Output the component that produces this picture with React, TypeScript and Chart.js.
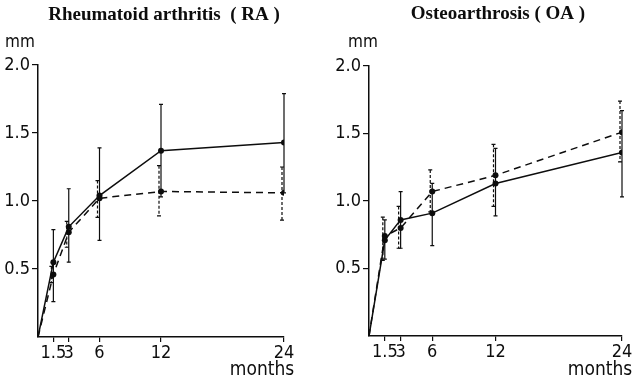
import React, { useEffect, useRef } from "react";
import { Chart, registerables } from "chart.js";

Chart.register(...registerables);

// ---- data ----
const months = [0, 1.5, 3, 6, 12, 24];
const xTicks = [1.5, 3, 6, 12, 24];
const yTicks = [0.5, 1.0, 1.5, 2.0];

// Rheumatoid arthritis (RA)
const raSolid = [0, 0.55, 0.81, 1.04, 1.37, 1.43];
const raSolidLow = [null, 0.26, 0.55, 0.71, 1.03, 1.06];
const raSolidHigh = [null, 0.79, 1.09, 1.39, 1.71, 1.79];
const raDashed = [0, 0.46, 0.77, 1.02, 1.07, 1.06];
const raDashedLow = [null, 0.4, 0.66, 0.88, 0.89, 0.86];
const raDashedHigh = [null, 0.52, 0.85, 1.15, 1.26, 1.25];

// Osteoarthrosis (OA)
const oaSolid = [0, 0.71, 0.86, 0.91, 1.13, 1.36];
const oaSolidLow = [null, 0.57, 0.65, 0.67, 0.89, 1.03];
const oaSolidHigh = [null, 0.86, 1.07, 1.13, 1.39, 1.67];
const oaDashed = [0, 0.74, 0.8, 1.07, 1.19, 1.51];
const oaDashedLow = [null, 0.56, 0.65, 0.92, 0.96, 1.29];
const oaDashedHigh = [null, 0.88, 0.96, 1.23, 1.42, 1.74];

const SANS = "'Liberation Sans Narrow', 'DejaVu Sans Condensed', 'Liberation Sans', Arial, sans-serif";
const SERIF = "'Liberation Serif', 'DejaVu Serif', serif";
const INK = "#0d0d0d";

const errorBarPlugin = {
  id: "errorBars",
  afterDatasetsDraw(chart: any) {
    const ctx = chart.ctx;
    const xs = chart.scales.x;
    const ys = chart.scales.y;
    chart.data.datasets.forEach((ds: any) => {
      if (!ds.errLow) return;
      ctx.save();
      ctx.strokeStyle = INK;
      ctx.lineWidth = 1.2;
      ctx.setLineDash(ds.errDash || []);
      ds.data.forEach((p: any, i: number) => {
        const lo = ds.errLow[i];
        const hi = ds.errHigh[i];
        if (lo == null || hi == null) return;
        const px = xs.getPixelForValue(p.x) + (ds.errShift || 0);
        const pl = ys.getPixelForValue(lo);
        const ph = ys.getPixelForValue(hi);
        ctx.beginPath();
        ctx.moveTo(px, ph);
        ctx.lineTo(px, pl);
        ctx.stroke();
        ctx.setLineDash([]);
        ctx.beginPath();
        ctx.moveTo(px - 2, ph);
        ctx.lineTo(px + 2, ph);
        ctx.moveTo(px - 2, pl);
        ctx.lineTo(px + 2, pl);
        ctx.stroke();
        ctx.setLineDash(ds.errDash || []);
      });
      ctx.restore();
    });
  },
};

const labelsPlugin = {
  id: "panelLabels",
  afterDraw(chart: any, _args: any, opts: any) {
    const ctx = chart.ctx;
    ctx.save();
    ctx.fillStyle = INK;
    ctx.textBaseline = "middle";
    ctx.font = opts.titleFont;
    ctx.textAlign = "center";
    ctx.fillText(opts.title, opts.titleX, opts.titleY);
    ctx.font = `17px ${SANS}`;
    ctx.textAlign = "left";
    ctx.fillText("mm", opts.mmX, opts.mmY);
    ctx.font = `19px ${SANS}`;
    ctx.textAlign = "center";
    ctx.fillText("months", opts.monthsX, opts.monthsY);
    ctx.restore();
  },
};

type PanelProps = {
  title: string;
  titleFont: string;
  solid: number[];
  solidLow: (number | null)[];
  solidHigh: (number | null)[];
  dashed: number[];
  dashedLow: (number | null)[];
  dashedHigh: (number | null)[];
  g: {
    yAxisW: number;
    padTop: number;
    padRight: number;
    xAxisH: number;
    titleX: number;
    titleY: number;
    mmX: number;
    mmY: number;
    monthsX: number;
    monthsY: number;
  };
};

function Panel(props: PanelProps) {
  const ref = useRef<HTMLCanvasElement | null>(null);
  useEffect(() => {
    if (!ref.current) return;
    const { g } = props;
    const pts = (arr: number[]) => months.map((m, i) => ({ x: m, y: arr[i] }));
    const radii = months.map((m) => (m === 0 ? 0 : 3));
    const chart = new Chart(ref.current, {
      type: "line",
      data: {
        datasets: [
          {
            data: pts(props.solid),
            borderColor: INK,
            backgroundColor: INK,
            borderWidth: 1.5,
            pointRadius: radii,
            pointBackgroundColor: INK,
            pointBorderWidth: 0,
            tension: 0,
            errLow: props.solidLow,
            errHigh: props.solidHigh,
            errDash: [],
          } as any,
          {
            data: pts(props.dashed),
            borderColor: INK,
            backgroundColor: INK,
            borderWidth: 1.5,
            borderDash: [7, 5],
            pointRadius: radii,
            pointBackgroundColor: INK,
            pointBorderWidth: 0,
            tension: 0,
            errLow: props.dashedLow,
            errHigh: props.dashedHigh,
            errDash: [3, 2],
            errShift: -2,
          } as any,
        ],
      },
      options: {
        animation: false,
        responsive: false,
        events: [],
        layout: { padding: { top: g.padTop, right: g.padRight, bottom: 0, left: 0 } },
        plugins: {
          legend: { display: false },
          tooltip: { enabled: false },
          title: { display: false },
          panelLabels: {
            title: props.title,
            titleFont: props.titleFont,
            titleX: g.titleX,
            titleY: g.titleY,
            mmX: g.mmX,
            mmY: g.mmY,
            monthsX: g.monthsX,
            monthsY: g.monthsY,
          },
        } as any,
        scales: {
          x: {
            type: "linear",
            min: 0,
            max: 24,
            afterBuildTicks: (s: any) => {
              s.ticks = xTicks.map((v) => ({ value: v }));
            },
            afterFit: (s: any) => {
              s.height = g.xAxisH;
              s.paddingLeft = 0;
              s.paddingRight = 0;
            },
            grid: {
              display: true,
              drawOnChartArea: false,
              drawTicks: true,
              tickLength: 5,
              color: INK,
              lineWidth: 1.2,
            },
            border: { display: true, color: INK, width: 1.5 },
            ticks: {
              color: INK,
              font: { family: SANS, size: 18 },
              padding: 1,
              maxRotation: 0,
              autoSkip: false,
              callback: (v: any) => String(v),
            },
          },
          y: {
            type: "linear",
            min: 0,
            max: 2,
            afterBuildTicks: (s: any) => {
              s.ticks = yTicks.map((v) => ({ value: v }));
            },
            afterFit: (s: any) => {
              s.width = g.yAxisW;
              s.paddingTop = 0;
              s.paddingBottom = 0;
            },
            grid: {
              display: true,
              drawOnChartArea: false,
              drawTicks: true,
              tickLength: 6,
              color: INK,
              lineWidth: 1.2,
            },
            border: { display: true, color: INK, width: 1.5 },
            ticks: {
              color: INK,
              font: { family: SANS, size: 18 },
              padding: 2,
              autoSkip: false,
              callback: (v: any) => Number(v).toFixed(1),
            },
          },
        },
      },
      plugins: [errorBarPlugin, labelsPlugin],
    });
    return () => chart.destroy();
  }, []);
  return <canvas ref={ref} width={316} height={384} style={{ display: "block" }} />;
}

export default function App() {
  return (
    <div
      style={{
        position: "fixed",
        left: 0,
        top: 0,
        width: 632,
        height: 384,
        display: "flex",
        background: "#fff",
      }}
    >
      <Panel
        title="Rheumatoid arthritis  ( RA )"
        titleFont={`bold 19px ${SERIF}`}
        solid={raSolid}
        solidLow={raSolidLow}
        solidHigh={raSolidHigh}
        dashed={raDashed}
        dashedLow={raDashedLow}
        dashedHigh={raDashedHigh}
        g={{
          yAxisW: 38,
          padTop: 65,
          padRight: 32,
          xAxisH: 47,
          titleX: 164,
          titleY: 15,
          mmX: 5,
          mmY: 43,
          monthsX: 262,
          monthsY: 370,
        }}
      />
      <Panel
        title="Osteoarthrosis ( OA )"
        titleFont={`bold 19px ${SERIF}`}
        solid={oaSolid}
        solidLow={oaSolidLow}
        solidHigh={oaSolidHigh}
        dashed={oaDashed}
        dashedLow={oaDashedLow}
        dashedHigh={oaDashedHigh}
        g={{
          yAxisW: 53,
          padTop: 66,
          padRight: 10,
          xAxisH: 48,
          titleX: 182,
          titleY: 14,
          mmX: 32,
          mmY: 43,
          monthsX: 284,
          monthsY: 370,
        }}
      />
    </div>
  );
}
